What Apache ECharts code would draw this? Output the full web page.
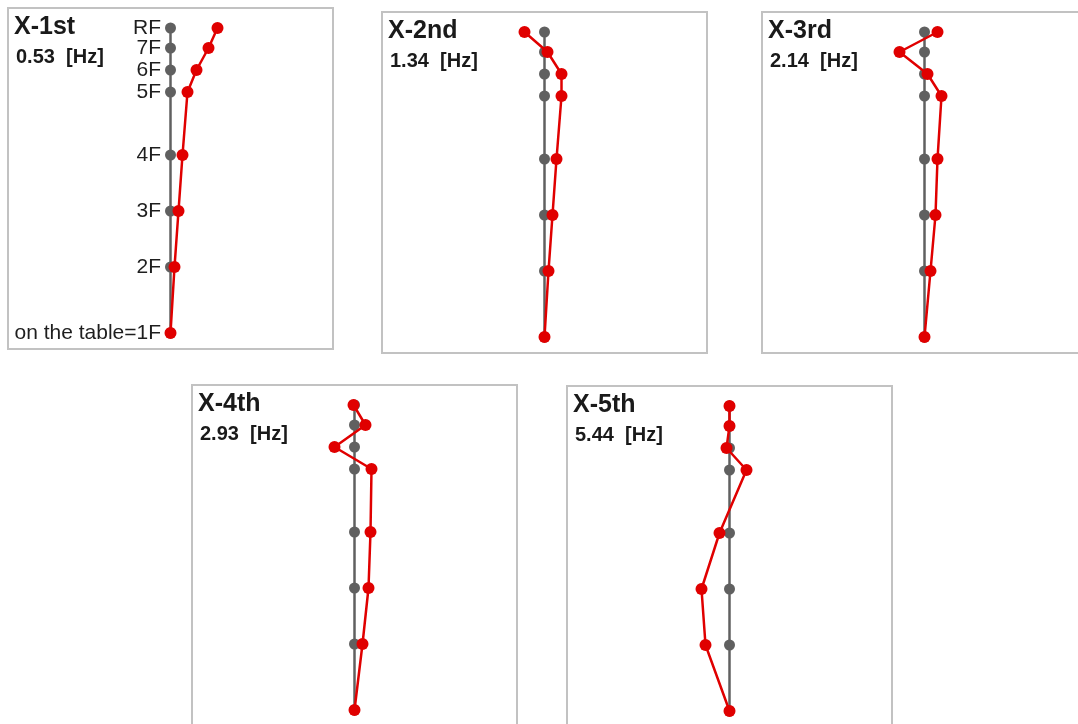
<!DOCTYPE html>
<html>
<head>
<meta charset="utf-8">
<script src="https://cdn.jsdelivr.net/npm/echarts@6/dist/echarts.min.js"></script>
<style>
html,body{margin:0;padding:0;background:#ffffff;}
#c{width:1078px;height:724px;}
</style>
</head>
<body>
<div id="c"></div>
<script>
// Floor names and heights (bottom to top)
var floors = ['on the table=1F', '2F', '3F', '4F', '5F', '6F', '7F', 'RF'];
var heights = [0, 66, 122, 178, 241, 263, 285, 305];

// Mode titles and frequencies
var modeNames = ['X-1st', 'X-2nd', 'X-3rd', 'X-4th', 'X-5th'];
var modeFreqs = ['0.53', '1.34', '2.14', '2.93', '5.44'];

// Mode shape displacements (bottom to top)
var mode1 = [0, 4, 8, 12, 17, 26, 38, 47];
var mode2 = [0, 4, 8, 12, 17, 17, 3, -20];
var mode3 = [0, 6, 11, 13, 17, 3, -25, 13];
var mode4 = [0, 8, 14, 16, 17, -20, 11, -1];
var mode5 = [0, -24, -28, -10, 17, -3, 0, 0];
var modes = [mode1, mode2, mode3, mode4, mode5];

// Panel layout (left, top of framed box)
var panelPos = [[8, 8], [382, 12], [762, 12], [192, 385], [567, 386]];
var panelW = 325, panelH = 341;

var grids = [], xAxes = [], yAxes = [], series = [], graphics = [];
for (var i = 0; i < 5; i++) {
  var p = panelPos[i];
  grids.push({
    left: p[0], top: p[1], width: panelW, height: panelH,
    outerBoundsMode: 'none', containLabel: false,
    show: true, borderColor: '#c2c2c2', borderWidth: 2, backgroundColor: '#ffffff'
  });
  xAxes.push({ type: 'value', gridIndex: i, min: -162.5, max: 162.5, show: false });
  yAxes.push({ type: 'value', gridIndex: i, min: -16, max: 325, show: false });
  var base = heights.map(function (h) { return [0, h]; });
  var shape = heights.map(function (h, k) { return [modes[i][k], h]; });
  series.push({
    type: 'line', xAxisIndex: i, yAxisIndex: i, data: base,
    symbol: 'circle', symbolSize: 11, silent: true, animation: false,
    lineStyle: { color: '#606060', width: 2.5 },
    itemStyle: { color: '#606060' },
    label: {
      show: i === 0, position: 'left', distance: 4,
      fontFamily: 'Liberation Sans, Arial, sans-serif', fontSize: 21, color: '#1e1e1e',
      formatter: function (pr) { return floors[pr.dataIndex]; }
    },
    z: 2
  });
  series.push({
    type: 'line', xAxisIndex: i, yAxisIndex: i, data: shape,
    symbol: 'circle', symbolSize: 12, silent: true, animation: false,
    lineStyle: { color: '#e00000', width: 2.5 },
    itemStyle: { color: '#e00000' },
    z: 3
  });
  graphics.push({
    type: 'text', x: p[0] + 6, y: p[1] + 19, z: 10,
    style: { text: modeNames[i], font: 'bold 25px "Liberation Sans", Arial, sans-serif',
      fill: '#1a1a1a', verticalAlign: 'middle' }
  });
  graphics.push({
    type: 'text', x: p[0] + 8, y: p[1] + 49, z: 10,
    style: { text: modeFreqs[i] + '  [Hz]', font: 'bold 20px "Liberation Sans", Arial, sans-serif',
      fill: '#1a1a1a', verticalAlign: 'middle' }
  });
}

var chart = echarts.init(document.getElementById('c'), null, { renderer: 'canvas' });
chart.setOption({
  backgroundColor: '#ffffff',
  animation: false,
  grid: grids,
  xAxis: xAxes,
  yAxis: yAxes,
  series: series,
  graphic: graphics
});
</script>
</body>
</html>
